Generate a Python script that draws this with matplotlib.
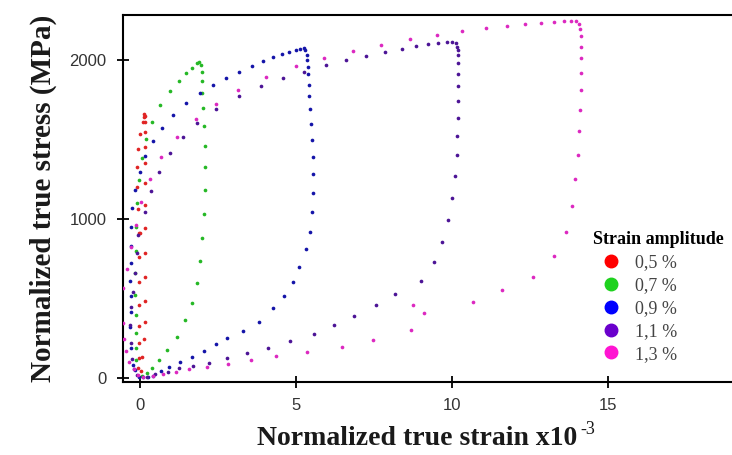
import matplotlib
matplotlib.use("Agg")
import matplotlib.pyplot as plt
from matplotlib.lines import Line2D

# strain (x10^-3) and stress (MPa), one loop per amplitude
strain_05 = [0.14, 0.15, 0.16, 0.16, 0.16, 0.16, 0.16, 0.16, 0.16, 0.16, 0.16, 0.17, 0.16, 0.14, 0.08, 0.03,
             -0.07, -0.04, -0.03, -0.02, -0.02, -0.02, -0.04, -0.02, 0.01, -0.07, -0.10, -0.09, -0.07, -0.01, 0.09, 0.13]
stress_05 = [1658, 1648, 1608, 1545, 1455, 1354, 1224, 1087, 940, 783, 632, 485, 353, 241, 130, 40,
             59, 122, 216, 325, 458, 602, 758, 909, 909, 1062, 1203, 1329, 1438, 1534, 1608, 1640]

strain_07 = [1.96, 1.98, 2.00, 2.00, 2.02, 2.04, 2.07, 2.08, 2.08, 2.06, 2.00, 1.92, 1.84, 1.68, 1.45, 1.18,
             0.88, 0.61, 0.37, 0.21, 0.05,
             -0.13, -0.14, -0.14, -0.14, -0.16, -0.15, -0.14, -0.14, -0.11, -0.04, 0.05, 0.20, 0.37, 0.65,
             0.96, 1.25, 1.47, 1.66, 1.82, 1.90]
stress_07 = [1965, 1927, 1870, 1791, 1696, 1585, 1461, 1327, 1180, 1031, 877, 735, 598, 472, 363, 258,
             174, 111, 63, 31, 10,
             111, 189, 283, 395, 521, 660, 800, 951, 1098, 1245, 1381, 1501, 1612, 1715,
             1805, 1870, 1916, 1952, 1979, 1986]

strain_09 = [5.24, 5.13, 5.00, 4.78, 4.54, 4.27, 3.93, 3.58, 3.16, 2.76, 2.35, 1.93, 1.49, 1.06, 0.69, 0.41,
             0.17, -0.01, -0.15, -0.25, -0.29, -0.30, -0.30, -0.31, -0.30, -0.30, -0.32, -0.30, -0.21, -0.16,
             -0.02, 0.11, 0.25, 0.43, 0.66, 0.94, 1.28, 1.68, 2.06, 2.45, 2.78, 3.29, 3.82, 4.27, 4.63, 4.89,
             5.11, 5.31, 5.44, 5.51, 5.53, 5.54, 5.53, 5.52, 5.49, 5.45, 5.43, 5.42, 5.40, 5.38, 5.36, 5.34, 5.29]
stress_09 = [2074, 2070, 2063, 2053, 2038, 2017, 1994, 1963, 1927, 1887, 1843, 1790, 1728, 1654, 1570, 1490,
             1396, 1295, 1184, 1066, 949, 831, 720, 611, 514, 416, 321, 185, 80, 48,
             6, 2, 6, 13, 44, 65, 99, 128, 168, 212, 248, 294, 353, 437, 516, 605,
             699, 808, 919, 1043, 1165, 1280, 1392, 1497, 1595, 1690, 1770, 1845, 1912, 1958, 2000, 2032, 2063]

strain_11 = [10.17, 10.13, 10.01, 9.83, 9.56, 9.24, 8.85, 8.39, 7.85, 7.24, 6.60, 5.96, 5.27, 4.57, 3.89,
             3.16, 2.43, 1.84, 1.38, 0.96, 0.62, 0.35, 0.16, -0.05, -0.10, -0.16, -0.22, -0.30, -0.31, -0.30,
             -0.25, -0.18, -0.08, 0.21, 0.48,
             0.91, 1.25, 1.69, 2.20, 2.79, 3.42, 4.11, 4.81, 5.58, 6.22, 6.86, 7.56, 8.17, 8.99, 9.43, 9.67,
             9.88, 10.01, 10.10, 10.15, 10.17, 10.19, 10.20, 10.20, 10.20, 10.20, 10.20, 10.19]
stress_11 = [2084, 2105, 2114, 2114, 2105, 2099, 2089, 2070, 2053, 2026, 1998, 1965, 1927, 1885, 1833,
             1770, 1690, 1606, 1518, 1413, 1297, 1173, 1041, 900, 783, 661, 540, 447, 330, 220,
             120, 55, 15, 6, 21,
             38, 59, 73, 94, 126, 157, 189, 231, 275, 332, 388, 458, 525, 611, 726, 856,
             993, 1129, 1270, 1402, 1522, 1637, 1742, 1833, 1912, 1979, 2032, 2063]

strain_13 = [14.08, 13.97, 13.80, 13.59, 13.27, 12.84, 12.34, 11.77, 11.09, 10.33, 9.51, 8.64, 7.72, 6.81,
             5.91, 5.00, 4.04, 3.14, 2.43, 1.81, 1.20, 0.68, 0.32, 0.03, -0.14, -0.30, -0.41, -0.53, -0.53,
             -0.50, -0.44, -0.35, -0.18, -0.05,
             0.11, 0.43, 0.75, 1.15, 1.58, 2.16, 2.81, 3.56, 4.35, 5.34, 6.46, 7.46, 8.69, 9.11, 8.76, 10.66,
             11.61, 12.59, 13.28, 13.66, 13.84, 13.94, 14.02, 14.06, 14.10, 14.12, 14.12, 14.12, 14.13, 14.13, 14.11]
stress_13 = [2227, 2246, 2246, 2246, 2240, 2231, 2225, 2214, 2200, 2179, 2156, 2131, 2097, 2059,
             2015, 1963, 1895, 1809, 1723, 1627, 1518, 1392, 1251, 1106, 961, 825, 686, 563, 342,
             243, 168, 101, 52, 17,
             6, 13, 21, 34, 52, 65, 86, 111, 136, 164, 195, 237, 300, 405, 458, 474,
             552, 636, 766, 919, 1083, 1249, 1404, 1551, 1688, 1809, 1919, 2011, 2084, 2151, 2194]

labels = ["0,5 %", "0,7 %", "0,9 %", "1,1 %", "1,3 %"]
dot_colors = ["#e02424", "#25b825", "#1414a8", "#4c1496", "#dc28c0"]
key_colors = ["#ff0000", "#1ed21e", "#0000ff", "#6a00cc", "#ff14d2"]

loops = [(strain_05, stress_05), (strain_07, stress_07), (strain_09, stress_09),
         (strain_11, stress_11), (strain_13, stress_13)]

fig = plt.figure(figsize=(7.32, 4.55), dpi=100)
ax = fig.add_axes([0.1676, 0.1598, 0.8324, 0.8066])

for (x, y), c in zip(loops, dot_colors):
    ax.scatter(x, y, s=7, color=c, linewidths=0, zorder=3)

ax.set_xlim(-0.554, 18.97)
ax.set_ylim(-29, 2281)
ax.set_xticks([0, 5, 10, 15])
ax.set_yticks([0, 1000, 2000])

for side in ["top", "bottom", "left"]:
    ax.spines[side].set_linewidth(1.5)
ax.spines["right"].set_visible(False)

ax.tick_params(direction="inout", length=9, width=1.3, pad=7,
               labelsize=12, labelcolor="#333333")
for t in ax.get_xticklabels() + ax.get_yticklabels():
    t.set_family("Liberation Sans")

label_font = dict(family="Liberation Serif", fontweight="bold", color="#1a1a1a")
ax.set_xlabel("Normalized true strain x10", fontsize=20, **label_font)
ax.xaxis.set_label_coords(0.483, -0.12)
ax.set_ylabel("Normalized true stress (MPa)", fontsize=21, labelpad=9, **label_font)

# the "-3" exponent sits high to the right of the x label, as in the original
ax.annotate("-3", xy=(1, 1), xycoords=ax.xaxis.label, xytext=(2, -2), textcoords="offset points",
            ha="left", va="center", family="Liberation Serif", fontsize=13, color="#1a1a1a")

handles = [Line2D([], [], linestyle="none", marker="o", markersize=9, color=c) for c in key_colors]
leg = fig.legend(handles, labels, title="Strain amplitude", loc="upper left",
                 bbox_to_anchor=(593 / 732, 1 - 231 / 455), frameon=False, borderpad=0,
                 borderaxespad=0, handlelength=2.0, handletextpad=0.3, labelspacing=0.33,
                 alignment="left",
                 prop={"family": "Liberation Serif", "size": 13},
                 title_fontproperties={"family": "Liberation Serif", "weight": "bold", "size": 13})
for t in leg.get_texts():
    t.set_color("#444444")

fig.savefig("out.png", dpi=100)
